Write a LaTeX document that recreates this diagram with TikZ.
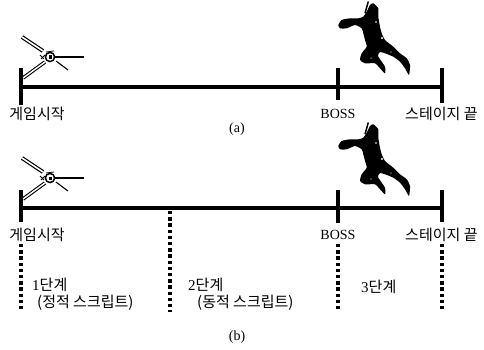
\documentclass[tikz,border=0pt]{standalone}
\usepackage{fontspec}
\setmainfont{Liberation Serif}
\newfontfamily\kr{Noto Sans CJK KR}

\tikzset{
  axis/.style={line width=4.5pt},
  tickmark/.style={line width=3.5pt},
  dotline/.style={line width=3.6pt, dash pattern=on 3.4pt off 2.8pt},
  lbl/.style={inner sep=0pt, font=\kr\fontsize{15}{17}\selectfont},
  serif/.style={inner sep=0pt, font=\fontsize{14}{16}\selectfont},
  stage/.style={inner sep=0pt, anchor=west, font=\fontsize{15}{17}\selectfont},
  % knight with a lance at the start of the stage
  lancer/.pic={
    \draw[double, double distance=1.6pt, line width=1.2pt] (22,37) -- (43,51);
    \draw[double, double distance=1.4pt, line width=1.1pt] (23,78) -- (45,62);
    \draw[line width=1.5pt, fill=white] (50,57) circle (4.6);
    \fill (48.5,55.5) rectangle (51.5,59);
    \draw[line width=1pt] (40,55) -- (44,59) (41,59) -- (45,55);
    \draw[line width=2.2pt] (55,57) -- (84,57);
    \draw[line width=1.1pt] (56,61) -- (68,70);
    \draw[line width=0.8pt] (46,52) -- (54,51);
  },
  % jumping boss silhouette
  ninja/.pic={
    \draw[line width=1.5pt] (368.3,1.5) -- (365,13.3);
    \fill plot[smooth cycle, tension=0.35] coordinates {
      (373.3,3.3) (378.3,8.3) (378.3,16.7) (380,26.7) (381.7,33.3) (385,40)
      (393.3,46.7) (400,53.3) (406.7,58.3) (410,65) (409,75) (405,68.3)
      (400,61.7) (393.3,56.7) (385,53.3) (380,52) (378,56) (385,66.7)
      (385,73.3) (380,68.3) (375,63.3) (365,63.3) (360,60) (361.7,53.3)
      (366.7,46.7) (365,40) (363.3,33.3) (361.7,28.3) (355,25) (346.7,28.3)
      (340,28.3) (338.3,25) (341.7,20) (350,18.3) (358.3,18.3) (363.3,16.7)
      (366.7,11.7) (370,5)};
    \fill[white] (382,38) circle (1.2) (376,22) circle (0.8) (391,52) circle (0.7)
                 (371,58) circle (0.7);
  }
}

\begin{document}
\begin{tikzpicture}[x=1pt, y=-1pt]
\useasboundingbox (0,0) rectangle (484,350);

% ---------- (a) ----------
\pic at (0,0) {lancer};
\pic at (0,0) {ninja};

\coordinate (aS) at (21,87);
\coordinate (aB) at (338,87);
\coordinate (aE) at (442,87);
\draw[axis] (aS) -- (aE);
\draw[tickmark] ([yshift=19pt]aS) -- ([yshift=-18pt]aS);
\draw[tickmark] ([yshift=19pt]aB) -- ([yshift=-13pt]aB);
\draw[tickmark] ([yshift=19pt]aE) -- ([yshift=-16pt]aE);

\node[lbl] (aStart) at (37,114) {게임시작};
\node[serif] (aBoss) at (338,114) {BOSS};
\node[lbl, anchor=west] (aEnd) at (405,114) {스테이지 끝};
\node[serif] (capA) at (237,129) {(a)};

% ---------- (b) ----------
\pic at (0,121) {lancer};
\pic at (0,121) {ninja};

\coordinate (bS) at (21,208);
\coordinate (bM) at (170,208);
\coordinate (bB) at (338,208);
\coordinate (bE) at (442,208);
\draw[axis] (bS) -- (bE);
\draw[tickmark] ([yshift=18pt]bS) -- ([yshift=-14pt]bS);
\draw[tickmark] ([yshift=18pt]bB) -- ([yshift=-15pt]bB);
\draw[tickmark] ([yshift=18pt]bE) -- ([yshift=-14pt]bE);

\node[lbl] (bStart) at (37,235) {게임시작};
\node[serif] (bBoss) at (338,235) {BOSS};
\node[lbl, anchor=west] (bEnd) at (405,235) {스테이지 끝};

\coordinate (dS) at (21,312);
\coordinate (dM) at (170,312);
\coordinate (dB) at (338,312);
\coordinate (dE) at (442,312);
\draw[dotline] (21,244) -- (dS);
\draw[dotline] ([yshift=-3pt]bM) -- (dM);
\draw[dotline] (338,244) -- (dB);
\draw[dotline] (442,244) -- (dE);

\node[stage] (s1) at (32,285) {1{\kr 단계}};
\node[lbl, anchor=west] (s1n) at (37,303) {(정적 스크립트)};
\node[stage] (s2) at (188,285) {2{\kr 단계}};
\node[lbl, anchor=west] (s2n) at (197,303) {(동적 스크립트)};
\node[stage] (s3) at (361,287) {3{\kr 단계}};
\node[serif] (capB) at (237,337) {(b)};
\end{tikzpicture}
\end{document}
